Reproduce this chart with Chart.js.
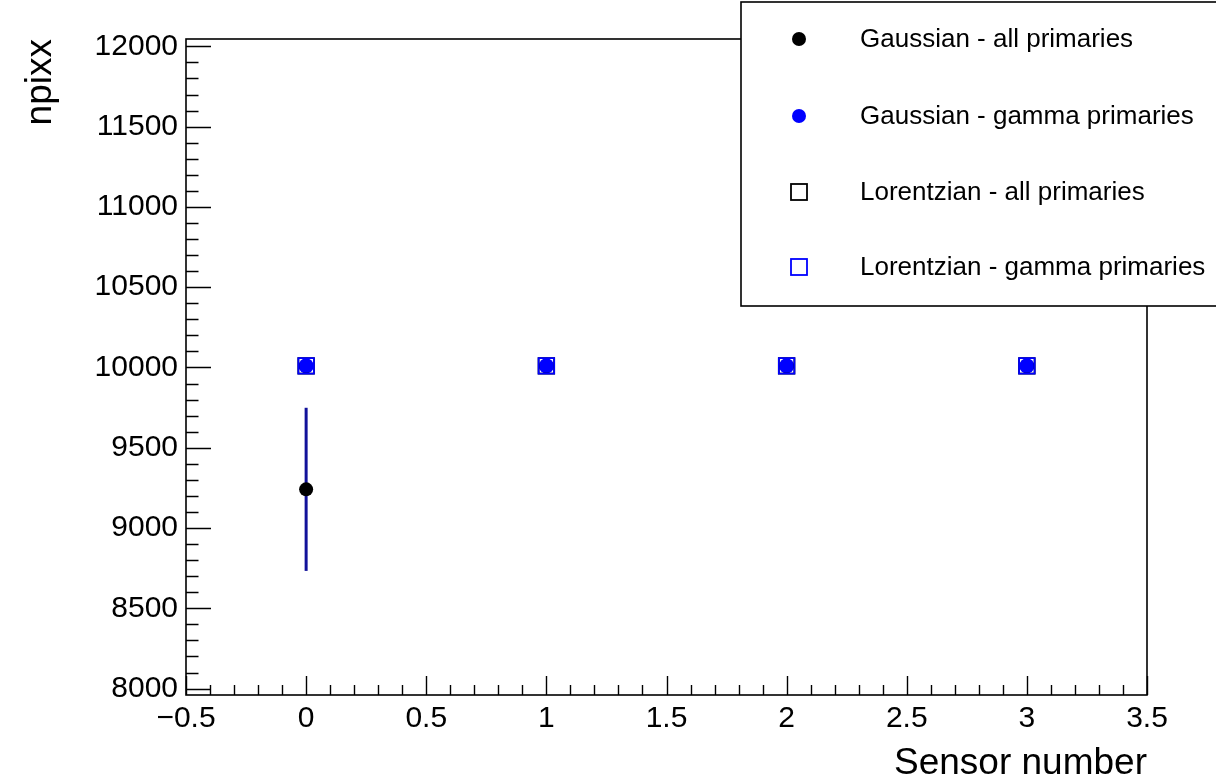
<!DOCTYPE html>
<html>
<head>
<meta charset="utf-8">
<script src="https://cdn.jsdelivr.net/npm/chart.js@4.4.0/dist/chart.umd.min.js"></script>
<style>
  html, body { margin: 0; padding: 0; background: #fff; }
  canvas { display: block; }
</style>
</head>
<body>
<canvas id="grafico-npixx" width="1216" height="781"></canvas>
<script>
const FONT = '"Liberation Sans", Arial, Helvetica, sans-serif';

// sensor index on x, fitted npixx on y
const sensors = [0, 1, 2, 3];
const gausAll = [9241, 10010, 10010, 10010];
const gausAllErr = [508, 0, 0, 0];
const gausGamma = [10010, 10010, 10010, 10010];
const lorAll = [10010, 10010, 10010, 10010];
const lorGamma = [10010, 10010, 10010, 10010];

const xTickValues = [-0.5, 0, 0.5, 1, 1.5, 2, 2.5, 3, 3.5];
const xTickLabels = ['\u22120.5', '0', '0.5', '1', '1.5', '2', '2.5', '3', '3.5'];
const yTickValues = [8000, 8500, 9000, 9500, 10000, 10500, 11000, 11500, 12000];
const yTickLabels = ['8000', '8500', '9000', '9500', '10000', '10500', '11000', '11500', '12000'];

const toPoints = ys => sensors.map((s, i) => ({ x: s, y: ys[i] }));

// ticks pointing inwards, error bars, frame and legend box
const rootStyle = {
    id: 'rootStyle',
    beforeDatasetsDraw(chart) {
        const { ctx, chartArea: a, scales: { x, y } } = chart;
        ctx.save();
        ctx.strokeStyle = '#000';
        ctx.lineWidth = 1.4;
        ctx.beginPath();
        for (let i = 0; i <= 40; i++) {
            const px = Math.round(x.getPixelForValue(-0.5 + i * 0.1)) + 0.5;
            const len = i % 5 === 0 ? 19 : 10;
            ctx.moveTo(px, a.bottom);
            ctx.lineTo(px, a.bottom - len);
        }
        for (let v = 8000; v <= 12000; v += 100) {
            const py = Math.round(y.getPixelForValue(v)) + 0.5;
            const len = v % 500 === 0 ? 25 : 12.5;
            ctx.moveTo(a.left, py);
            ctx.lineTo(a.left + len, py);
        }
        ctx.stroke();

        // error bars of the gaussian fit
        ctx.strokeStyle = '#11119a';
        ctx.lineWidth = 3;
        ctx.beginPath();
        sensors.forEach((s, i) => {
            if (!gausAllErr[i]) return;
            const px = x.getPixelForValue(s);
            ctx.moveTo(px, y.getPixelForValue(gausAll[i] + gausAllErr[i]));
            ctx.lineTo(px, y.getPixelForValue(gausAll[i] - gausAllErr[i]));
        });
        ctx.stroke();
        ctx.restore();
    },
    afterDraw(chart) {
        const { ctx, chartArea: a } = chart;
        ctx.save();
        ctx.strokeStyle = '#000';
        ctx.lineWidth = 1.6;
        ctx.strokeRect(a.left, a.top, a.right - a.left, a.bottom - a.top);

        // legend
        const box = { left: 741, top: 2, right: 1230, bottom: 306 };
        ctx.fillStyle = '#fff';
        ctx.fillRect(box.left, box.top, box.right - box.left, box.bottom - box.top);
        ctx.strokeRect(box.left, box.top, box.right - box.left, box.bottom - box.top);

        const rows = [39, 116, 192, 267];
        ctx.font = '26px ' + FONT;
        ctx.textBaseline = 'middle';
        ctx.textAlign = 'left';
        chart.data.datasets.forEach((ds, i) => {
            const cy = rows[i];
            const cx = 799;
            if (ds.pointStyle === 'circle') {
                ctx.fillStyle = ds.backgroundColor;
                ctx.beginPath();
                ctx.arc(cx, cy, 7, 0, Math.PI * 2);
                ctx.fill();
            } else {
                ctx.strokeStyle = ds.borderColor;
                ctx.lineWidth = 1.8;
                ctx.strokeRect(cx - 8, cy - 8, 16, 16);
            }
            ctx.fillStyle = '#000';
            ctx.fillText(ds.label, 860, cy + 1);
        });
        ctx.restore();
    }
};

const ctx = document.getElementById('grafico-npixx').getContext('2d');
const chart = new Chart(ctx, {
    type: 'scatter',
    data: {
        datasets: [
            {
                label: 'Gaussian - all primaries',
                data: toPoints(gausAll),
                pointStyle: 'circle',
                pointRadius: 7,
                backgroundColor: '#000',
                borderColor: '#000',
                borderWidth: 0,
                order: 4
            },
            {
                label: 'Gaussian - gamma primaries',
                data: toPoints(gausGamma),
                pointStyle: 'circle',
                pointRadius: 7.6,
                backgroundColor: '#0000ff',
                borderColor: '#0000ff',
                borderWidth: 0,
                order: 3
            },
            {
                label: 'Lorentzian - all primaries',
                data: toPoints(lorAll),
                pointStyle: 'rect',
                pointRadius: 11,
                backgroundColor: 'rgba(0,0,0,0)',
                borderColor: '#000',
                borderWidth: 1.8,
                order: 2
            },
            {
                label: 'Lorentzian - gamma primaries',
                data: toPoints(lorGamma),
                pointStyle: 'rect',
                pointRadius: 11,
                backgroundColor: 'rgba(0,0,0,0)',
                borderColor: '#0000ff',
                borderWidth: 1.8,
                order: 1
            }
        ]
    },
    options: {
        responsive: false,
        animation: false,
        devicePixelRatio: 1,
        layout: { padding: { left: 0, right: 69, top: 39, bottom: 0 } },
        plugins: {
            legend: { display: false },
            tooltip: { enabled: false }
        },
        elements: { point: { hoverRadius: 7 } },
        scales: {
            x: {
                type: 'linear',
                min: -0.5,
                max: 3.5,
                afterBuildTicks: s => { s.ticks = xTickValues.map(v => ({ value: v })); },
                afterFit: s => { s.height = 86; },
                grid: { display: false },
                border: { display: false },
                ticks: {
                    autoSkip: false,
                    maxRotation: 0,
                    padding: 1,
                    color: '#000',
                    font: { family: FONT, size: 30, lineHeight: 1 },
                    callback: v => xTickLabels[xTickValues.indexOf(v)]
                },
                title: {
                    display: true,
                    text: 'Sensor number',
                    align: 'end',
                    color: '#000',
                    font: { family: FONT, size: 37, lineHeight: 0.8 },
                    padding: { top: 0, bottom: 2 }
                }
            },
            y: {
                type: 'linear',
                min: 7960,
                max: 12046,
                afterBuildTicks: s => { s.ticks = yTickValues.map(v => ({ value: v })); },
                afterFit: s => { s.width = 186; },
                grid: { display: false },
                border: { display: false },
                ticks: {
                    autoSkip: false,
                    padding: 0,
                    color: '#000',
                    font: { family: FONT, size: 30, lineHeight: 1 },
                    callback: v => yTickLabels[yTickValues.indexOf(v)]
                },
                title: {
                    display: true,
                    text: 'npixx',
                    align: 'end',
                    color: '#000',
                    font: { family: FONT, size: 37, lineHeight: 1 },
                    padding: { top: 22, bottom: 0 }
                }
            }
        }
    },
    plugins: [rootStyle]
});
</script>
</body>
</html>
